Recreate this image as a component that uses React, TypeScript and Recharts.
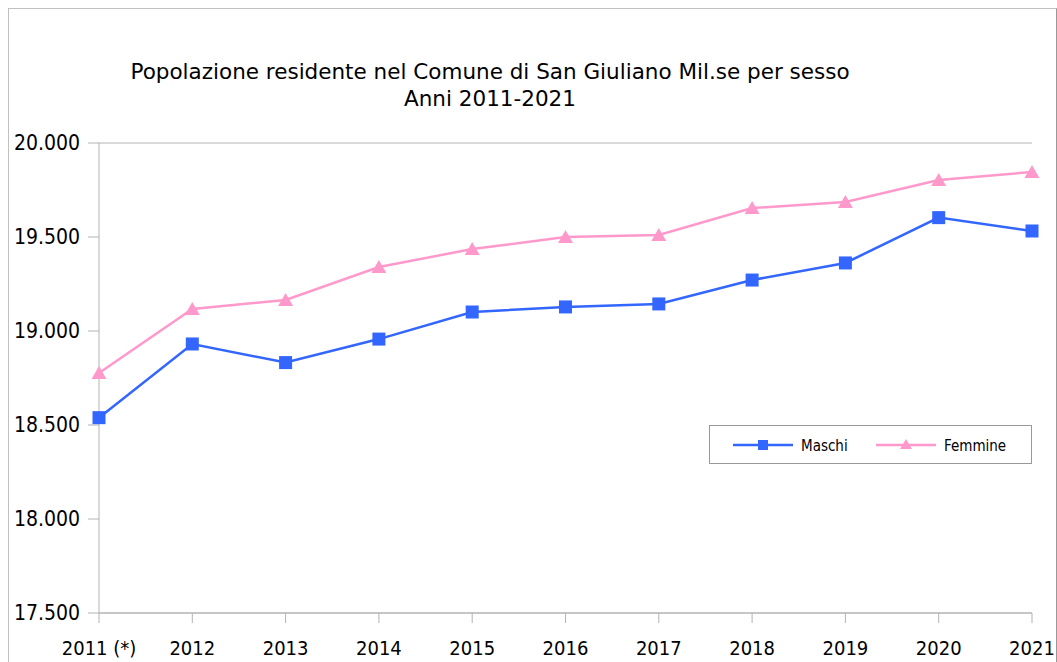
import React from 'react';
import { LineChart, Line, XAxis, YAxis, CartesianGrid } from 'recharts';

// Popolazione residente per sesso, San Giuliano Milanese
const years = ['2011 (*)', '2012', '2013', '2014', '2015', '2016', '2017', '2018', '2019', '2020', '2021'];
const maschi = [18539, 18931, 18832, 18957, 19101, 19128, 19144, 19271, 19362, 19603, 19532];
const femmine = [18777, 19117, 19165, 19340, 19436, 19500, 19511, 19654, 19686, 19803, 19846];
const yTicks = [17500, 18000, 18500, 19000, 19500, 20000];

const data = years.map((y, i) => ({ anno: y, Maschi: maschi[i], Femmine: femmine[i] }));

const FONT = "'DejaVu Sans Condensed', 'DejaVu Sans', sans-serif";
const TITLE_FONT = "'DejaVu Sans', sans-serif";
const BLUE = '#3366ff';
const PINK = '#ff99cc';
const GRID = '#b3b3b3';

const fmt = (v: number) => {
  const s = String(Math.round(v));
  return s.replace(/\B(?=(\d{3})+(?!\d))/g, '.');
};

const SquareDot = (props: any) => {
  const { cx, cy, index } = props;
  if (cx == null || cy == null) return null;
  return <rect key={`sq-${index}`} x={cx - 6.5} y={cy - 6.5} width={13} height={13} fill={BLUE} />;
};

const TriangleDot = (props: any) => {
  const { cx, cy, index } = props;
  if (cx == null || cy == null) return null;
  return (
    <polygon
      key={`tr-${index}`}
      points={`${cx},${cy - 7} ${cx + 7.5},${cy + 6} ${cx - 7.5},${cy + 6}`}
      fill={PINK}
    />
  );
};

const LegendBox = () => (
  <div
    style={{
      position: 'absolute',
      left: 709,
      top: 425,
      width: 321,
      height: 37,
      border: '1px solid #999',
      background: '#fff',
    }}
  >
    <svg width={321} height={37} style={{ position: 'absolute', left: 0, top: 0 }}>
      <line x1={23} x2={83} y1={19} y2={19} stroke={BLUE} strokeWidth={2.5} />
      <rect x={48} y={14} width={10} height={10} fill={BLUE} />
      <text x={91} y={24.5} fontSize={15} fontFamily={FONT} fill="#000">Maschi</text>
      <line x1={166} x2={226} y1={19} y2={19} stroke={PINK} strokeWidth={2.5} />
      <polygon points="196,13 202,23 190,23" fill={PINK} />
      <text x={234} y={24.5} fontSize={15} fontFamily={FONT} fill="#000">Femmine</text>
    </svg>
  </div>
);

export default function App() {
  return (
    <div style={{ position: 'absolute', left: 0, top: 0, width: 1057, height: 662, overflow: 'hidden', background: '#fff' }}>
      <div
        style={{
          position: 'absolute',
          left: 8,
          top: 8,
          width: 1047,
          height: 700,
          borderTop: '1px solid #c0c0c0',
          borderLeft: '1px solid #c0c0c0',
          borderRight: '1px solid #999',
        }}
      />
      <div
        style={{
          position: 'absolute',
          left: 90,
          top: 58,
          width: 800,
          textAlign: 'center',
          fontFamily: TITLE_FONT,
          fontSize: 21.5,
          lineHeight: '27px',
          color: '#000',
        }}
      >
        <div>Popolazione residente nel Comune di San Giuliano Mil.se per sesso</div>
        <div>Anni 2011-2021</div>
      </div>
      <div style={{ position: 'absolute', left: 0, top: 0 }}>
        <LineChart width={1057} height={662} data={data} margin={{ top: 143, right: 25, bottom: 0, left: 9 }}>
          <CartesianGrid vertical={false} stroke={GRID} strokeWidth={1} />
          <XAxis
            dataKey="anno"
            height={49}
            interval={0}
            stroke={GRID}
            tickSize={10}
            tickMargin={18}
            tick={{ fontSize: 20, fill: '#000', fontFamily: FONT }}
          />
          <YAxis
            yAxisId="l"
            width={90}
            domain={[17500, 20000]}
            ticks={yTicks}
            interval={0}
            stroke={GRID}
            tickSize={11}
            tickMargin={8}
            tickFormatter={fmt}
            tick={{ fontSize: 21, fill: '#000', fontFamily: FONT }}
          />
          <YAxis
            yAxisId="r"
            orientation="right"
            width={0}
            domain={[17500, 20000]}
            stroke={GRID}
            tick={false}
            tickLine={false}
          />
          <Line
            yAxisId="l"
            type="linear"
            dataKey="Maschi"
            stroke={BLUE}
            strokeWidth={2.5}
            dot={SquareDot}
            activeDot={false}
            isAnimationActive={false}
          />
          <Line
            yAxisId="l"
            type="linear"
            dataKey="Femmine"
            stroke={PINK}
            strokeWidth={2.5}
            dot={TriangleDot}
            activeDot={false}
            isAnimationActive={false}
          />
        </LineChart>
      </div>
      <LegendBox />
    </div>
  );
}
